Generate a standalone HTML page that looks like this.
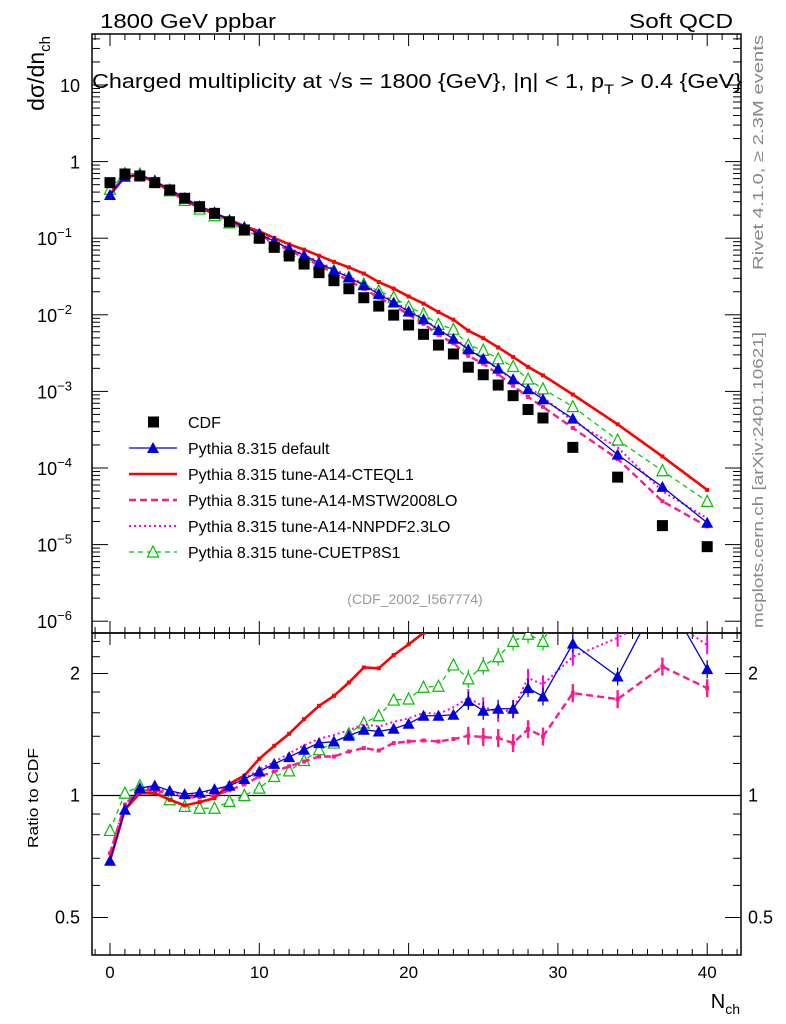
<!DOCTYPE html>
<html><head><meta charset="utf-8"><style>
html,body{margin:0;padding:0;background:#fff;}
svg{display:block;font-family:"Liberation Sans",sans-serif;}
</style></head><body>
<svg id="chart" width="786" height="1024" viewBox="0 0 786 1024" xmlns="http://www.w3.org/2000/svg">
<g id="axes"></g>
<g id="series"></g>
<text x="100" y="28" font-size="20" textLength="176" lengthAdjust="spacingAndGlyphs">1800 GeV ppbar</text>
<text x="733" y="28" font-size="20" text-anchor="end" textLength="104" lengthAdjust="spacingAndGlyphs">Soft QCD</text>
<text x="92" y="88" font-size="20" textLength="650" lengthAdjust="spacingAndGlyphs">Charged multiplicity at √s = 1800 {GeV}, |η| &lt; 1, p<tspan font-size="14" dy="6">T</tspan><tspan dy="-6"> &gt; 0.4 {GeV}</tspan></text>
<text transform="translate(44,36) rotate(-90)" font-size="23" text-anchor="end">dσ/dn<tspan font-size="15" dy="6">ch</tspan></text>
<text transform="translate(38,848) rotate(-90)" font-size="15" textLength="100" lengthAdjust="spacingAndGlyphs">Ratio to CDF</text>
<text x="740" y="1008" font-size="20" text-anchor="end">N<tspan font-size="14" dy="6">ch</tspan></text>
<text transform="translate(763,270) rotate(-90)" font-size="15" fill="#888" textLength="235" lengthAdjust="spacingAndGlyphs">Rivet 4.1.0, ≥ 2.3M events</text>
<text transform="translate(763,628) rotate(-90)" font-size="15" fill="#888" textLength="296" lengthAdjust="spacingAndGlyphs">mcplots.cern.ch [arXiv:2401.10621]</text>
<text x="415" y="604" font-size="14" fill="#999" text-anchor="middle">(CDF_2002_I567774)</text>
<g id="legend"></g>
</svg>
<script>
const nch = [0,1,2,3,4,5,6,7,8,9,10,11,12,13,14,15,16,17,18,19,20,21,22,23,24,25,26,27,28,29,31,34,37,40];
const cdf = [0.531,0.689,0.649,0.531,0.426,0.332,0.258,0.211,0.164,0.128,0.0997,0.076,0.0586,0.046,0.0355,0.0279,0.0219,0.0167,0.013,0.0099,0.00736,0.00556,0.00403,0.00308,0.00207,0.00165,0.00121,0.00088,0.00058,0.00045,1.86e-4,7.6e-5,1.77e-5,9.4e-6];
const rDefault = [0.69,0.922,1.043,1.058,1.027,1.008,1.017,1.037,1.057,1.098,1.146,1.197,1.244,1.297,1.347,1.359,1.404,1.453,1.439,1.461,1.503,1.573,1.573,1.582,1.712,1.618,1.637,1.637,1.841,1.755,2.37,1.966,3.2,2.05];
const rCteq = [0.69,0.922,1.014,1.014,0.976,0.945,0.963,0.985,1.069,1.12,1.232,1.326,1.42,1.543,1.664,1.762,1.9,2.07,2.06,2.22,2.36,2.52,2.7,2.8,3.0,3.0,3.1,3.2,3.6,3.6,4.9,4.9,8.0,5.5];
const rMstw = [0.72,0.95,1.03,1.03,1.01,0.99,0.99,1.0,1.03,1.065,1.114,1.146,1.18,1.213,1.248,1.248,1.284,1.309,1.291,1.347,1.359,1.367,1.359,1.378,1.404,1.394,1.386,1.347,1.458,1.398,1.789,1.729,2.08,1.84];
const rNnpdf = [0.72,0.95,1.04,1.04,1.02,1.0,1.01,1.03,1.06,1.1,1.16,1.21,1.27,1.33,1.38,1.41,1.45,1.5,1.48,1.52,1.55,1.6,1.59,1.65,1.74,1.66,1.6,1.63,1.95,1.88,2.2,2.45,2.8,2.35];
const rCuet = [0.82,1.013,1.057,1.037,0.976,0.94,0.93,0.93,0.967,1.0,1.043,1.114,1.15,1.22,1.297,1.347,1.42,1.51,1.573,1.72,1.73,1.85,1.86,2.1,1.94,2.09,2.2,2.4,2.5,2.4,3.4,3.05,5.2,3.9];
const xTicks = [0,10,20,30,40];
const yDecades = [1,0,-1,-2,-3,-4,-5,-6];
const yDecadeLabels = ["10","1","10","10","10","10","10","10"];
const yDecadeExps = ["","","−1","−2","−3","−4","−5","−6"];
const ratioTicks = [0.5,1,2];
const ratioTickLabels = ["0.5","1","2"];

const NS="http://www.w3.org/2000/svg";
const L=92,R=741,T=34,MID=633,B=955;
const X=n=>110+(n)*14.93;
const Y=v=>85+(1-Math.log10(v))*76.6;
const YR=r=>795.5-122*Math.log2(r);
function mk(tag,attrs,parent){const e=document.createElementNS(NS,tag);for(const k in attrs)e.setAttribute(k,attrs[k]);parent.appendChild(e);return e;}
const axes=document.getElementById('axes'), ser=document.getElementById('series'), leg=document.getElementById('legend');

let f=mk('rect',{x:L,y:T,width:R-L,height:MID-T,fill:'none',stroke:'#000','stroke-width':1.5},axes);


f=mk('rect',{x:L,y:MID,width:R-L,height:B-MID,fill:'none',stroke:'#000','stroke-width':1.5},axes);


for(let n=-1;n<=42;n++){
  const x=X(n); if(x<L||x>R) continue;
  const major=n%10===0, len=major?12:6;
  for(const [y0,d] of [[T,1],[MID,-1],[MID,1],[B,-1]]){
    mk('line',{x1:x,x2:x,y1:y0,y2:y0+d*len,stroke:'#000','stroke-width':1},axes);
  }
}
xTicks.forEach(t=>{
  const tx=mk('text',{x:X(t),y:978,'font-size':17,'text-anchor':'middle'},axes);
  tx.textContent=t;
  
  
});
yDecades.forEach((d,i)=>{
  for(let m=1;m<10;m++){
    const v=m*Math.pow(10,d); const y=Y(v); if(y<T||y>MID) continue;
    const len=m===1?16:8;
    mk('line',{x1:L,x2:L+len,y1:y,y2:y,stroke:'#000','stroke-width':1},axes);
    mk('line',{x1:R,x2:R-len,y1:y,y2:y,stroke:'#000','stroke-width':1},axes);
  }
  const y=Y(Math.pow(10,d));
  const tx=mk('text',{x:yDecadeExps[i]?72:80,y:y+7,'font-size':18,'text-anchor':'end'},axes);
  tx.textContent=yDecadeLabels[i];
  
  
  if(yDecadeExps[i]){const s=mk('tspan',{'font-size':13,dy:-8},tx); s.textContent=yDecadeExps[i];}
});
[0.4,0.5,0.6,0.7,0.8,0.9,1,1.2,1.4,1.6,1.8,2,2.2,2.4].forEach(r=>{
  const y=YR(r); if(y<MID||y>B) return;
  const len=(r===0.5||r===1||r===2)?16:8;
  mk('line',{x1:L,x2:L+len,y1:y,y2:y,stroke:'#000','stroke-width':1},axes);
  mk('line',{x1:R,x2:R-len,y1:y,y2:y,stroke:'#000','stroke-width':1},axes);
});
ratioTicks.forEach((r,i)=>{
  for(const [x,a] of [[80,'end'],[748,'start']]){
    const tx=mk('text',{x:x,y:YR(r)+6,'font-size':18,'text-anchor':a},axes);
    tx.textContent=ratioTickLabels[i];
    
    
  }
});
let ref=mk('line',{x1:L,x2:R,y1:YR(1),y2:YR(1),stroke:'#000','stroke-width':1.2},axes);



const defs=mk('defs',{},ser);
const c1=mk('clipPath',{id:'cm'},defs); mk('rect',{x:L,y:T,width:R-L,height:MID-T},c1);
const c2=mk('clipPath',{id:'cr'},defs); mk('rect',{x:L,y:MID,width:R-L,height:B-MID},c2);

function marker(g,kind,x,y,col){
  if(kind==='tri') mk('path',{d:`M${x},${y-6}L${x+6},${y+5}L${x-6},${y+5}Z`,fill:col},g);
  else if(kind==='otri') mk('path',{d:`M${x},${y-6}L${x+5.5},${y+5}L${x-5.5},${y+5}Z`,fill:'#fff',stroke:col,'stroke-width':1.2},g);
  else if(kind==='sq') mk('rect',{x:x-2,y:y-2,width:4,height:4,fill:col},g);
}
const series=[
 {name:'cuetp8s1',r:rCuet,col:'#00c000',w:1.2,dash:'5,4',m:'otri'},
 {name:'nnpdf23lo',r:rNnpdf,col:'#ff00dd',w:2,dash:'2,3',m:null},
 {name:'mstw2008lo',r:rMstw,col:'#ff1a8c',w:2.4,dash:'7,4',m:'sq'},
 {name:'cteql1',r:rCteq,col:'#ff0000',w:2.6,dash:null,m:'sq'},
 {name:'default',r:rDefault,col:'#0000dd',w:1.3,dash:null,m:'tri'}
];
series.forEach(s=>{
  for(const panel of ['main','ratio']){
    const g=mk('g',{'clip-path':panel==='main'?'url(#cm)':'url(#cr)'},ser);
    
    
    const pts=nch.map((n,i)=>[X(n), panel==='main'?Y(cdf[i]*s.r[i]):YR(s.r[i])]);
    const a={points:pts.map(p=>p.join(',')).join(' '),fill:'none',stroke:s.col,'stroke-width':s.w};
    if(s.dash)a['stroke-dasharray']=s.dash;
    mk('polyline',a,g);
    pts.forEach((p,i)=>{
      if(panel==='ratio'&&nch[i]>=24){
        mk('line',{x1:p[0],x2:p[0],y1:p[1]-9,y2:p[1]+9,stroke:s.col,'stroke-width':s.w},g);
      }
      if(s.m) marker(g,s.m,p[0],p[1],s.col);
    });
  }
});
const gd=mk('g',{'clip-path':'url(#cm)'},ser);


nch.forEach((n,i)=>{
  const p=mk('rect',{x:X(n)-5.5,y:Y(cdf[i])-5.5,width:11,height:11,fill:'#000'},gd);
  
  
});

const legItems=[
 {t:'CDF',k:'data'},
 {t:'Pythia 8.315 default',s:series[4]},
 {t:'Pythia 8.315 tune-A14-CTEQL1',s:series[3]},
 {t:'Pythia 8.315 tune-A14-MSTW2008LO',s:series[2]},
 {t:'Pythia 8.315 tune-A14-NNPDF2.3LO',s:series[1]},
 {t:'Pythia 8.315 tune-CUETP8S1',s:series[0]}
];
legItems.forEach((it,i)=>{
  const y=422+i*26;
  const g=mk('g',{},leg);
  
  
  if(it.k==='data'){ mk('rect',{x:148,y:y-5.5,width:11,height:11,fill:'#000'},g); }
  else{
    const s=it.s; const a={x1:129,x2:177,y1:y,y2:y,stroke:s.col,'stroke-width':s.w};
    if(s.dash)a['stroke-dasharray']=s.dash;
    mk('line',a,g);
    if(s.m==='tri'||s.m==='otri') marker(g,s.m,153,y,s.col);
  }
  const tx=mk('text',{x:188,y:y+6,'font-size':16},g);
  tx.textContent=it.t;
});
</script>
</body></html>
